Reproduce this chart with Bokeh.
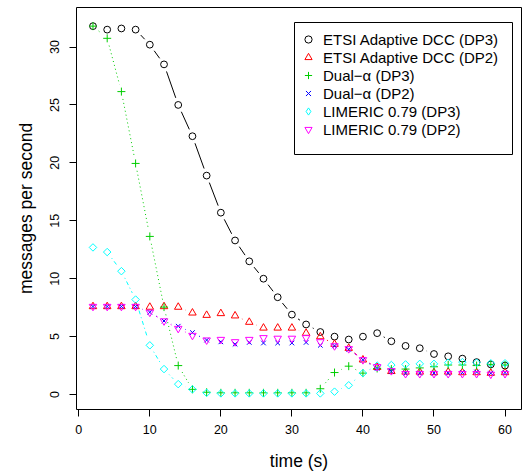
import math
from bokeh.plotting import figure
from bokeh.models import Range1d, FixedTicker, Legend, LegendItem, BoxAnnotation
from bokeh.embed import file_html
from bokeh.resources import INLINE

# ---- data ----
time_s = [2, 4, 6, 8, 10, 12, 14, 16, 18, 20, 22, 24, 26, 28, 30,
          32, 34, 36, 38, 40, 42, 44, 46, 48, 50, 52, 54, 56, 58, 60]

etsi_dp3 = [31.8, 31.5, 31.6, 31.5, 30.2, 28.5, 25.0, 22.3, 18.9, 15.7,
            13.3, 11.5, 10.0, 8.4, 6.9, 6.05, 5.4, 5.0, 4.75, 5.0,
            5.3, 4.6, 4.2, 4.0, 3.5, 3.3, 3.1, 2.8, 2.6, 2.5]
etsi_dp2 = [7.6, 7.6, 7.6, 7.6, 7.55, 7.6, 7.55, 7.05, 6.85, 7.0,
            6.8, 6.25, 5.75, 5.75, 5.75, 5.3, 5.0, 4.35, 4.0, 3.0,
            2.35, 2.0, 1.95, 1.95, 1.9, 1.95, 1.9, 1.9, 1.85, 1.9]
dual_dp3 = [31.8, 30.75, 26.15, 19.95, 13.65, 7.55, 2.5, 0.45, 0.2, 0.15,
            0.15, 0.15, 0.15, 0.15, 0.15, 0.15, 0.5, 1.9, 2.45, 1.85,
            2.25, 2.2, 2.2, 2.3, 2.4, 2.55, 2.55, 2.5, 2.6, 2.55]
dual_dp2 = [7.6, 7.6, 7.6, 7.6, 7.1, 6.35, 5.9, 5.35, 4.7, 4.55,
            4.35, 4.5, 4.45, 4.45, 4.45, 4.5, 4.25, 4.2, 3.9, 3.0,
            2.25, 2.0, 1.85, 1.85, 1.85, 1.85, 1.9, 1.95, 1.85, 1.9]
limeric_dp3 = [12.7, 12.3, 10.65, 8.2, 4.25, 2.2, 0.9, 0.45, 0.15, 0.1,
               0.1, 0.1, 0.1, 0.1, 0.1, 0.1, 0.1, 0.25, 0.8, 1.85,
               2.5, 2.55, 2.6, 2.65, 2.65, 2.75, 2.8, 2.75, 2.7, 2.7]
limeric_dp2 = [7.6, 7.6, 7.6, 7.6, 7.1, 6.35, 5.7, 5.1, 4.7, 4.75,
               4.55, 4.75, 4.9, 4.85, 4.85, 4.9, 4.55, 4.2, 3.95, 3.0,
               2.4, 2.05, 1.8, 1.8, 1.8, 1.8, 1.8, 1.8, 1.75, 1.8]

labels = ["ETSI Adaptive DCC (DP3)", "ETSI Adaptive DCC (DP2)",
          "Dual\u2212\u03b1 (DP3)", "Dual\u2212\u03b1 (DP2)",
          "LIMERIC 0.79 (DP3)", "LIMERIC 0.79 (DP2)"]
values = [etsi_dp3, etsi_dp2, dual_dp3, dual_dp2, limeric_dp3, limeric_dp2]
x_ticks = [0, 10, 20, 30, 40, 50, 60]
y_ticks = [0, 5, 10, 15, 20, 25, 30]

# ---- styles ----
colors = ["#000000", "#FF0000", "#00CD00", "#0000FF", "#00FFFF", "#FF00FF"]
markers = ["circle", "triangle", "cross", "x", "square", "inverted_triangle"]
legend_markers = ["circle", "triangle", "cross", "x", "diamond", "inverted_triangle"]
msizes = [6.8, 7.5, 8, 6.5, 5.3, 7.5]
mangles = [0, 0, 0, 0, math.pi / 4, 0]
dashes = ["solid", "4 4", "1 3", "1 3", "1 3 4 3", "solid"]

W, H = 528, 476
BL, BR, BT, BB = 76, 7, 7, 67
XR = (-0.32, 62.32)
YR = (-1.29, 33.41)
FONT = "Liberation Sans"

p = figure(width=W, height=H, output_backend="svg", toolbar_location=None,
           x_range=Range1d(*XR), y_range=Range1d(*YR),
           min_border_left=BL, min_border_right=BR,
           min_border_top=BT, min_border_bottom=BB)
p.xgrid.visible = False
p.ygrid.visible = False
p.outline_line_color = "black"
p.outline_line_width = 1
p.outline_line_alpha = 1

# pixel scale, used for R's type="b" gaps around points
sx = (W - BL - BR) / (XR[1] - XR[0])
sy = (H - BT - BB) / (YR[1] - YR[0])
GAP = 7.5


def gapped(xs, ys):
    x0, y0, x1, y1 = [], [], [], []
    for a, b, c, d in zip(xs[:-1], ys[:-1], xs[1:], ys[1:]):
        L = math.hypot((c - a) * sx, (d - b) * sy)
        if L > 2 * GAP:
            f = GAP / L
            x0.append(a + f * (c - a)); y0.append(b + f * (d - b))
            x1.append(c - f * (c - a)); y1.append(d - f * (d - b))
    return x0, y0, x1, y1


items = []
for lab, ys, col, mk, lmk, ms, ang, ds in zip(labels, values, colors, markers,
                                              legend_markers, msizes, mangles, dashes):
    x0, y0, x1, y1 = gapped(time_s, ys)
    p.segment(x0=x0, y0=y0, x1=x1, y1=y1, line_color=col, line_width=1,
              line_dash=ds)
    r = p.scatter(x=time_s, y=ys, marker=mk, size=ms, angle=ang,
                  line_color=col, fill_color=None, line_width=1)
    if lmk != mk:
        # legend-only glyph: zero size in the plot, legend sizes it itself
        r = p.scatter(x=time_s, y=ys, marker=lmk, size=0,
                      line_color=col, fill_color=None, line_width=1)
    items.append(LegendItem(label=lab, renderers=[r]))

# legend frame (R draws a plain rectangle around the legend)
box = BoxAnnotation(left=294, right=512, top=22, bottom=154,
                    left_units="canvas", right_units="canvas",
                    top_units="canvas", bottom_units="canvas",
                    fill_color="white", fill_alpha=1,
                    line_color="black", line_width=1, line_alpha=1)
p.add_layout(box)

legend = Legend(items=items, location=(223, 271), padding=5, spacing=0,
                glyph_width=18, glyph_height=18, label_height=18,
                label_standoff=6, margin=0,
                border_line_color=None, background_fill_alpha=0,
                label_text_font=FONT, label_text_font_size="15px",
                label_text_color="black")
p.add_layout(legend)

for ax in (p.xaxis[0], p.yaxis[0]):
    ax.axis_line_color = None
    ax.major_tick_line_color = "black"
    ax.major_tick_line_width = 1
    ax.major_tick_out = 7
    ax.major_tick_in = 0
    ax.minor_tick_line_color = None
    ax.major_label_text_font = FONT
    ax.major_label_text_font_size = "12.5px"
    ax.major_label_text_color = "black"
    ax.axis_label_text_font = FONT
    ax.axis_label_text_font_size = "17.5px"
    ax.axis_label_text_font_style = "normal"
    ax.axis_label_text_color = "black"

p.xaxis.ticker = FixedTicker(ticks=x_ticks)
p.yaxis.ticker = FixedTicker(ticks=y_ticks)
p.xaxis.axis_label = "time (s)"
p.yaxis.axis_label = "messages per second"
p.xaxis.major_label_standoff = 8
p.xaxis.axis_label_standoff = 14
p.yaxis.major_label_orientation = "vertical"
p.yaxis.major_label_standoff = 10
p.yaxis.axis_label_standoff = 12

open("out.html", "w").write(file_html(p, INLINE))
